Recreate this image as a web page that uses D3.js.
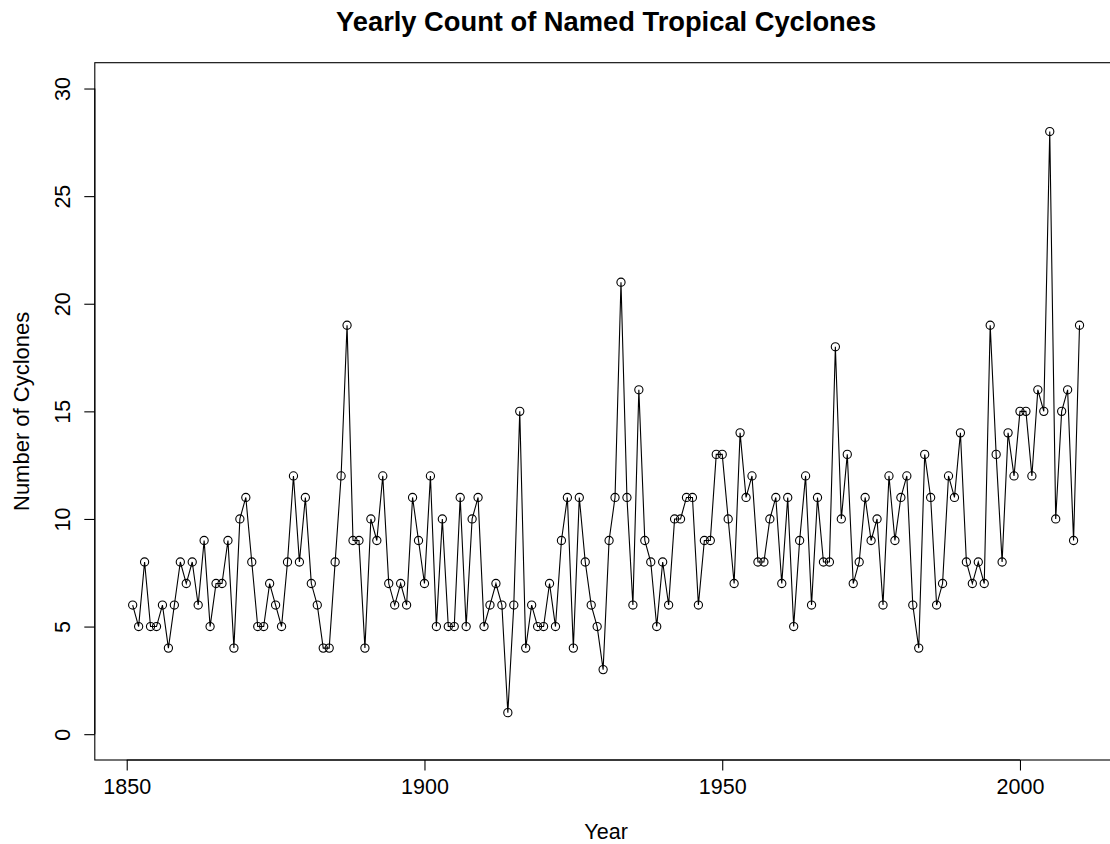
<!DOCTYPE html>
<html>
<head>
<meta charset="utf-8">
<script src="https://cdn.jsdelivr.net/npm/d3@7"></script>
<style>
  html, body { margin: 0; padding: 0; background: #fff; }
  svg { display: block; }
  text { font-family: "Liberation Sans", Arial, Helvetica, sans-serif; fill: #000; }
</style>
</head>
<body>
<svg id="chart" width="1110" height="844"></svg>
<script>
const startYear = 1851;
const counts = [
  6, 5, 8, 5, 5, 6, 4, 6, 8, 7,        // 1851-1860
  8, 6, 9, 5, 7, 7, 9, 4, 10, 11,      // 1861-1870
  8, 5, 5, 7, 6, 5, 8, 12, 8, 11,      // 1871-1880
  7, 6, 4, 4, 8, 12, 19, 9, 9, 4,      // 1881-1890
  10, 9, 12, 7, 6, 7, 6, 11, 9, 7,     // 1891-1900
  12, 5, 10, 5, 5, 11, 5, 10, 11, 5,   // 1901-1910
  6, 7, 6, 1, 6, 15, 4, 6, 5, 5,       // 1911-1920
  7, 5, 9, 11, 4, 11, 8, 6, 5, 3,      // 1921-1930
  9, 11, 21, 11, 6, 16, 9, 8, 5, 8,    // 1931-1940
  6, 10, 10, 11, 11, 6, 9, 9, 13, 13,  // 1941-1950
  10, 7, 14, 11, 12, 8, 8, 10, 11, 7,  // 1951-1960
  11, 5, 9, 12, 6, 11, 8, 8, 18, 10,   // 1961-1970
  13, 7, 8, 11, 9, 10, 6, 12, 9, 11,   // 1971-1980
  12, 6, 4, 13, 11, 6, 7, 12, 11, 14,  // 1981-1990
  8, 7, 8, 7, 19, 13, 8, 14, 12, 15,   // 1991-2000
  15, 12, 16, 15, 28, 10, 15, 16, 9, 19 // 2001-2010
];
const years = counts.map((_, i) => startYear + i);
const xTicks = [1850, 1900, 1950, 2000];
const yTicks = [0, 5, 10, 15, 20, 25, 30];
const titleText = "Yearly Count of Named Tropical Cyclones";
const xLabel = "Year";
const yLabel = "Number of Cyclones";

(function () {
const data = years.map((yr, i) => ({ year: yr, count: counts[i] }));

const svg = d3.select("#chart");
const pL = 94.8, pR = 1117.4, pT = 62.7, pB = 760;

// R-style 4% extension
const xr = d3.extent(years);
const xpad = (xr[1] - xr[0]) * 0.04;
const x = d3.scaleLinear().domain([xr[0] - xpad, xr[1] + xpad]).range([pL, pR]);
const y = d3.scaleLinear().domain([0 - 1.2, 30 + 1.2]).range([pB, pT]);

const fs = 21.5;

// Box
svg.append("rect")
  .attr("x", pL).attr("y", pT)
  .attr("width", pR - pL).attr("height", pB - pT)
  .attr("fill", "none").attr("stroke", "#000").attr("stroke-width", 1.1);

// X axis
const xAxis = d3.axisBottom(x).tickValues(xTicks).tickFormat(d3.format("d")).tickSizeOuter(0).tickSize(10.5).tickPadding(8);
const gx = svg.append("g").attr("transform", `translate(0,${pB})`).call(xAxis);
gx.select(".domain").attr("d", `M${x(xTicks[0])},0H${x(xTicks[xTicks.length-1])}`).attr("stroke-width", 1.1);
gx.selectAll(".tick line").attr("stroke-width", 1.1);
gx.selectAll(".tick text").attr("font-size", fs).attr("font-family", "Liberation Sans, Arial, sans-serif").attr("fill", "#000").attr("dy", "0.71em");

// Y axis
const yAxis = d3.axisLeft(y).tickValues(yTicks).tickSizeOuter(0).tickSize(10.5).tickPadding(8);
const gy = svg.append("g").attr("transform", `translate(${pL},0)`).call(yAxis);
gy.select(".domain").attr("d", `M0,${y(yTicks[0])}V${y(yTicks[yTicks.length-1])}`).attr("stroke-width", 1.1);
gy.selectAll(".tick line").attr("stroke-width", 1.1);
gy.selectAll(".tick text")
  .attr("font-size", fs).attr("font-family", "Liberation Sans, Arial, sans-serif").attr("fill", "#000")
  .attr("text-anchor", "middle").attr("x", null).attr("dy", null)
  .attr("transform", "translate(-25,0) rotate(-90)")
  .attr("y", 0);

// Line
const line = d3.line().x(d => x(d.year)).y(d => y(d.count));
svg.append("path").datum(data)
  .attr("d", line).attr("fill", "none").attr("stroke", "#000").attr("stroke-width", 1.1);

// Points
svg.append("g").selectAll("circle").data(data).join("circle")
  .attr("cx", d => x(d.year)).attr("cy", d => y(d.count)).attr("r", 4.1)
  .attr("fill", "none").attr("stroke", "#000").attr("stroke-width", 1.1);

// Title
svg.append("text").attr("x", (pL + pR) / 2).attr("y", 31)
  .attr("text-anchor", "middle").attr("font-weight", "bold").attr("font-size", 27.3)
  .text(titleText);

// Axis labels
svg.append("text").attr("x", (pL + pR) / 2).attr("y", 839)
  .attr("text-anchor", "middle").attr("font-size", fs).text(xLabel);
svg.append("text").attr("transform", `translate(29,${(pT + pB) / 2}) rotate(-90)`)
  .attr("text-anchor", "middle").attr("font-size", 22).text(yLabel);
})();
</script>
</body>
</html>
